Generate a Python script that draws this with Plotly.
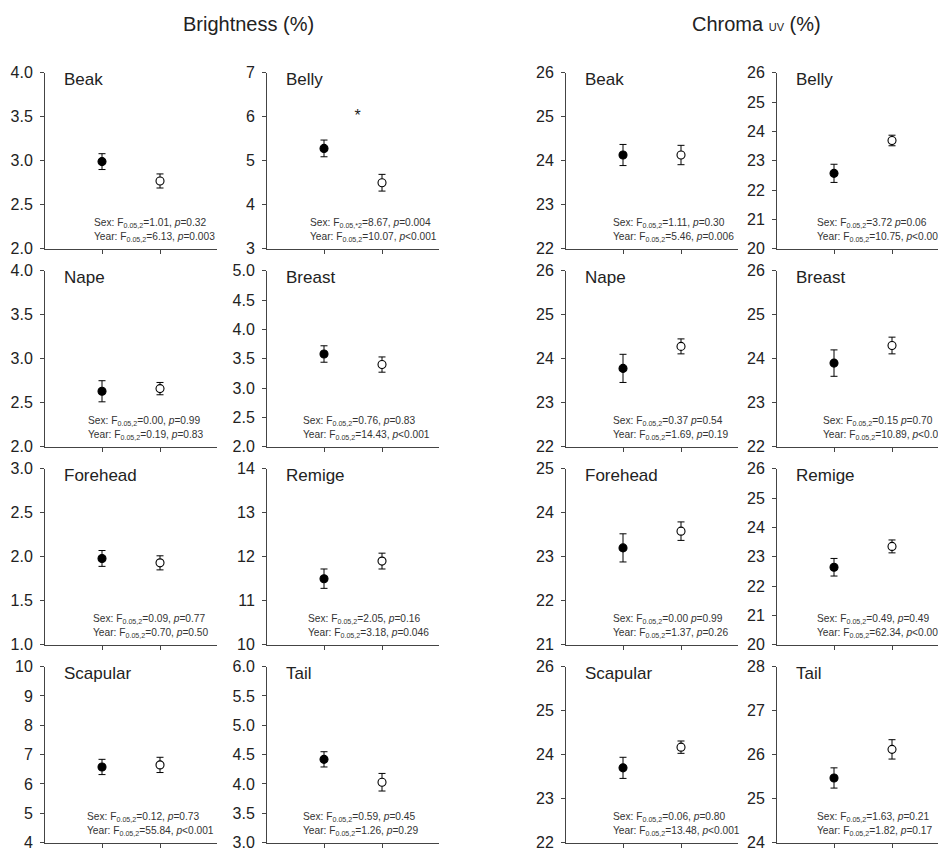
import plotly.graph_objects as go

# ---------------- data ----------------
parts = ["Beak", "Belly", "Nape", "Breast", "Forehead", "Remige", "Scapular", "Tail"]
groups = ["Male", "Female"]
x_pos = [1, 2]

bright_male = [2.99, 5.28, 2.63, 3.58, 1.98, 11.50, 6.58, 4.42]
bright_male_se = [0.09, 0.19, 0.12, 0.14, 0.09, 0.22, 0.26, 0.13]
bright_female = [2.77, 4.50, 2.66, 3.40, 1.93, 11.90, 6.65, 4.03]
bright_female_se = [0.08, 0.19, 0.07, 0.13, 0.08, 0.18, 0.26, 0.15]

chroma_male = [24.13, 22.57, 23.78, 23.90, 23.20, 22.64, 23.70, 25.47]
chroma_male_se = [0.24, 0.31, 0.32, 0.30, 0.32, 0.30, 0.24, 0.23]
chroma_female = [24.13, 23.69, 24.28, 24.30, 23.58, 23.35, 24.17, 26.12]
chroma_female_se = [0.22, 0.18, 0.17, 0.19, 0.21, 0.22, 0.14, 0.22]

bright_ymin = [2, 3, 2, 2, 1, 10, 4, 3]
bright_ymax = [4, 7, 4, 5, 3, 14, 10, 6]
bright_dtick = [0.5, 1, 0.5, 0.5, 0.5, 1, 1, 0.5]
chroma_ymin = [22, 20, 22, 22, 21, 20, 22, 24]
chroma_ymax = [26, 26, 26, 26, 25, 26, 26, 28]
chroma_dtick = [1, 1, 1, 1, 1, 1, 1, 1]

bright_sex_df = ["0.05,2", "0.05,*2", "0.05,2", "0.05,2", "0.05,2", "0.05,2", "0.05,2", "0.05,2"]
bright_sex_F = ["1.01", "8.67", "0.00", "0.76", "0.09", "2.05", "0.12", "0.59"]
bright_sex_p = ["=0.32", "=0.004", "=0.99", "=0.83", "=0.77", "=0.16", "=0.73", "=0.45"]
bright_sex_sep = [", ", ", ", ", ", ", ", ", ", ", ", ", ", ", "]
bright_year_F = ["6.13", "10.07", "0.19", "14.43", "0.70", "3.18", "55.84", "1.26"]
bright_year_p = ["=0.003", "<0.001", "=0.83", "<0.001", "=0.50", "=0.046", "<0.001", "=0.29"]

chroma_sex_df = ["0.05,2"] * 8
chroma_sex_F = ["1.11", "3.72", "0.37", "0.15", "0.00", "0.49", "0.06", "1.63"]
chroma_sex_p = ["=0.30", "=0.06", "=0.54", "=0.70", "=0.99", "=0.49", "=0.80", "=0.21"]
chroma_sex_sep = [", ", " ", " ", " ", " ", ", ", ", ", ", "]
chroma_year_F = ["5.46", "10.75", "1.69", "10.89", "1.37", "62.34", "13.48", "1.82"]
chroma_year_p = ["=0.006", "<0.001", "=0.19", "<0.001", "=0.26", "<0.001", "<0.001", "=0.17"]

star_part = "Belly"
star_x = 1.58
star_y = 6.0

# ---------------- layout geometry (target screen pixels) ----------------
W, H = 938, 866
X_OFF = 8                 # horizontal page offset
Y_SCALE, Y_OFF = 0.9805, 15.25   # observed vertical placement of the figure on the page
col_left = [45, 267, 566, 777]
panel_w = 172
row_top = [72, 270, 468, 666]
row_bottom = [248, 446, 644, 842]
px_per_unit = 58.0
x_start = 0.017
# horizontal start of the statistics text inside each panel (layout only)
bright_stats_dx = [47, 41, 41, 34, 46, 39, 40, 34]
chroma_stats_dx = [45, 38, 45, 44, 45, 38, 45, 38]

FONT = "Liberation Sans, Arial, sans-serif"


def px(p):
    return (p - X_OFF) / W


def py(p):
    return 1 - ((p - Y_OFF) / Y_SCALE) / H


fig = go.Figure()
layout_axes = {}
annotations = []

datasets = [
    dict(male=bright_male, male_se=bright_male_se, female=bright_female, female_se=bright_female_se,
         ymin=bright_ymin, ymax=bright_ymax, dtick=bright_dtick, sdf=bright_sex_df, sF=bright_sex_F,
         sp=bright_sex_p, ssep=bright_sex_sep, yF=bright_year_F, yp=bright_year_p, col0=0,
         sdx=bright_stats_dx),
    dict(male=chroma_male, male_se=chroma_male_se, female=chroma_female, female_se=chroma_female_se,
         ymin=chroma_ymin, ymax=chroma_ymax, dtick=chroma_dtick, sdf=chroma_sex_df, sF=chroma_sex_F,
         sp=chroma_sex_p, ssep=chroma_sex_sep, yF=chroma_year_F, yp=chroma_year_p, col0=2,
         sdx=chroma_stats_dx),
]

k = 0
for d in datasets:
    for i, part in enumerate(parts):
        k += 1
        col = d["col0"] + (i % 2)
        row = i // 2
        left = col_left[col]
        right = min(left + panel_w, W + X_OFF)
        top = row_top[row]
        bottom = row_bottom[row]
        xd = [px(left), min(px(right), 1.0)]
        yd = [py(bottom), py(top)]
        xa = "x" if k == 1 else f"x{k}"
        ya = "y" if k == 1 else f"y{k}"
        xkey = "xaxis" if k == 1 else f"xaxis{k}"
        ykey = "yaxis" if k == 1 else f"yaxis{k}"

        fig.add_trace(go.Scatter(
            x=x_pos, y=[d["male"][i], d["female"][i]],
            mode="markers",
            marker=dict(size=8, color=["black", "white"], line=dict(color="black", width=1.1)),
            error_y=dict(type="data", array=[d["male_se"][i], d["female_se"][i]],
                         color="black", thickness=1, width=3.5),
            xaxis=xa, yaxis=ya, showlegend=False, cliponaxis=False,
        ))

        if part == star_part and d["col0"] == 0:
            fig.add_trace(go.Scatter(
                x=[star_x], y=[star_y], mode="text", text=["*"],
                textfont=dict(size=16, color="#222", family=FONT),
                xaxis=xa, yaxis=ya, showlegend=False,
            ))

        ticks_fmt = ".1f" if d["dtick"][i] < 1 else "d"
        layout_axes[xkey] = dict(
            domain=xd, range=[x_start, x_start + (right - left) / px_per_unit], anchor=ya,
            showgrid=False, zeroline=False, showline=True, linecolor="#444", linewidth=1,
            ticks="outside", ticklen=4, tickcolor="#444", tickvals=x_pos, showticklabels=False,
        )
        layout_axes[ykey] = dict(
            domain=yd, range=[d["ymin"][i], d["ymax"][i]], anchor=xa,
            dtick=d["dtick"][i], tick0=d["ymin"][i], tickformat=ticks_fmt,
            showgrid=False, zeroline=False, showline=True, linecolor="#444", linewidth=1,
            ticks="outside", ticklen=4, tickcolor="#444",
            tickfont=dict(size=16, color="#222", family=FONT), ticklabelstandoff=4,
        )

        # panel label
        annotations.append(dict(
            x=px(left + 17), y=py(top + 7), xref="paper", yref="paper",
            xanchor="left", yanchor="middle", text=part, showarrow=False,
            font=dict(size=17, color="#222", family=FONT),
        ))
        # stats
        sex_txt = (f"Sex: F<sub>{d['sdf'][i]}</sub>={d['sF'][i]}{d['ssep'][i]}"
                   f"<i>p</i>{d['sp'][i]}")
        year_txt = f"Year: F<sub>0.05,2</sub>={d['yF'][i]}, <i>p</i>{d['yp'][i]}"
        sx = px(left + d["sdx"][i])
        annotations.append(dict(
            x=sx, y=py(bottom - 25), xref="paper", yref="paper",
            xanchor="left", yanchor="middle", text=sex_txt, showarrow=False,
            font=dict(size=10.2, color="#333", family=FONT),
        ))
        annotations.append(dict(
            x=sx, y=py(bottom - 11.5), xref="paper", yref="paper",
            xanchor="left", yanchor="middle", text=year_txt, showarrow=False,
            font=dict(size=10.2, color="#333", family=FONT),
        ))

# column titles
annotations.append(dict(
    x=px(248), y=py(23), xref="paper", yref="paper", xanchor="center", yanchor="middle",
    text="Brightness (%)", showarrow=False, font=dict(size=20, color="#222", family=FONT),
))
annotations.append(dict(
    x=px(756), y=py(23), xref="paper", yref="paper", xanchor="center", yanchor="middle",
    text="Chroma <span style='font-size:11px'>UV</span> (%)", showarrow=False,
    font=dict(size=20, color="#222", family=FONT),
))

fig.update_layout(
    width=W, height=H, margin=dict(l=0, r=0, t=0, b=0),
    paper_bgcolor="white", plot_bgcolor="rgba(0,0,0,0)",
    annotations=annotations, font=dict(family=FONT),
    **layout_axes,
)

fig.write_html("out.html")
